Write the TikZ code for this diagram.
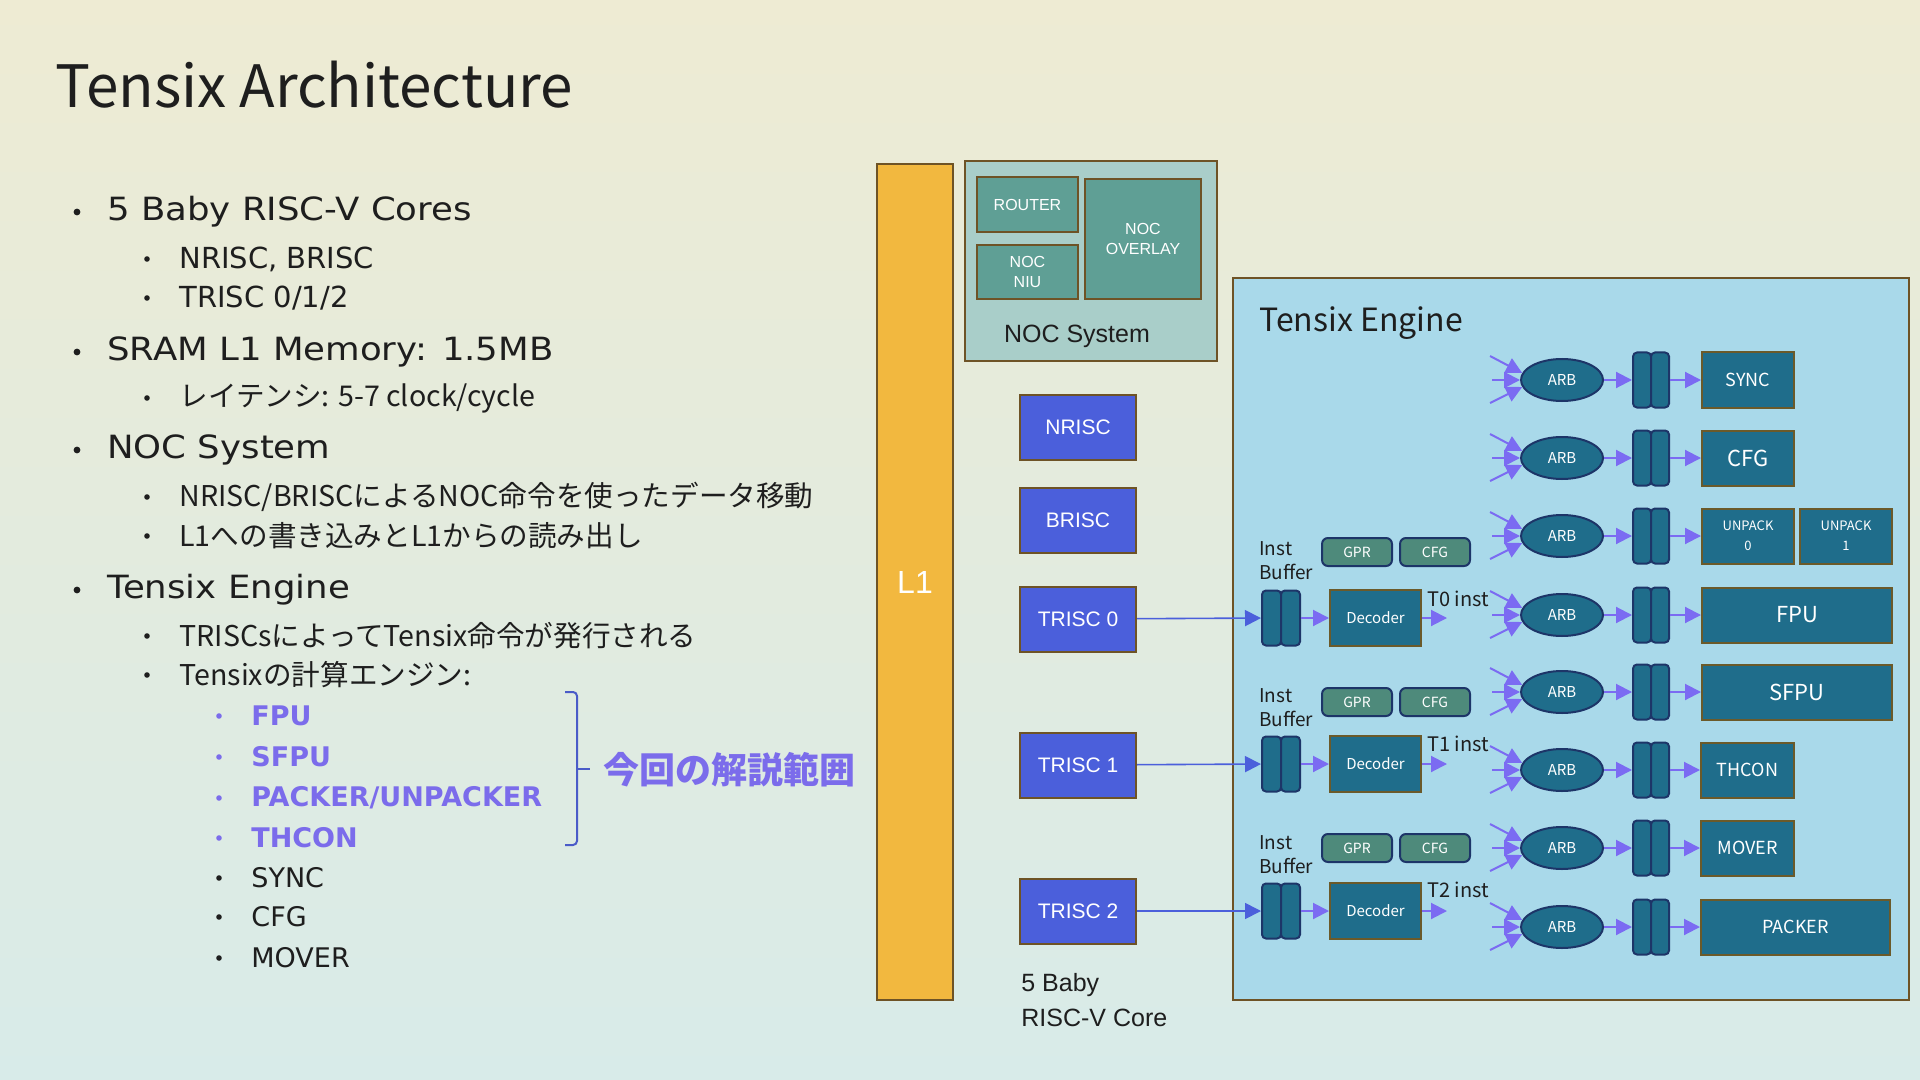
\documentclass[tikz,border=0pt]{standalone}
\usepackage{fontspec}
\setmainfont{Noto Sans CJK JP}
\newfontfamily\diagfont{Liberation Sans}
\newfontfamily\listfont{DejaVu Sans}
\newfontfamily\listwide[FakeStretch=1.11]{DejaVu Sans}
\usetikzlibrary{arrows.meta,shapes.geometric}

\definecolor{bgtop}{HTML}{EEEBD3}
\definecolor{bgmid}{HTML}{FAFAF6}
\definecolor{bgbot}{HTML}{D8EBE9}
\definecolor{txt}{HTML}{1E1E1E}
\definecolor{purp}{HTML}{7B6CEB}
\definecolor{brkcol}{HTML}{4A5BC8}
\definecolor{l1col}{HTML}{F2B83F}
\definecolor{brd}{HTML}{6E5326}
\definecolor{nocbg}{HTML}{A9CEC9}
\definecolor{noccol}{HTML}{5F9F95}
\definecolor{corecol}{HTML}{4B5FDB}
\definecolor{engbg}{HTML}{A9D9EA}
\definecolor{engdark}{HTML}{1F6D8B}
\definecolor{navy}{HTML}{1D3568}
\definecolor{unitbrd}{HTML}{6B5A2A}
\definecolor{regcol}{HTML}{4E8A7B}
\definecolor{arrcol}{HTML}{7B6BF2}

\newcommand{\fsz}[2]{\fontsize{#1}{#2}\selectfont}

\begin{document}
\begin{tikzpicture}[x=0.5pt,y=-0.5pt,>={Triangle[length=8pt,width=8pt]},
		lbl/.style={inner sep=0pt, text=txt},
		item1/.style={lbl, anchor=west, font=\listwide\fsz{16pt}{19pt}},
		item2/.style={lbl, anchor=west, font=\fsz{14.3pt}{17pt}},
		item2l/.style={lbl, anchor=west, font=\listfont\fsz{14.5pt}{17pt}},
		item3/.style={lbl, anchor=west, font=\listfont\fsz{13.5pt}{17pt}},
		hot/.style={item3, text=purp, font=\listfont\bfseries\fsz{13.5pt}{17pt}},
		box/.style={draw=brd, line width=1pt, inner sep=0pt},
		nocpart/.style={box, fill=noccol, text=white, align=center, font=\diagfont\fsz{8pt}{10pt}},
		core/.style={box, fill=corecol, text=white, minimum width=58pt, minimum height=32.5pt,
			font=\diagfont\fsz{10.5pt}{12pt}},
		arb/.style={ellipse, draw=navy, line width=1pt, fill=engdark, text=white, inner sep=0pt,
			minimum width=41pt, minimum height=21pt, font=\fsz{7.5pt}{9pt}},
		half/.style={draw=navy, line width=1pt, fill=engdark, rounded corners=2pt, inner sep=0pt,
			minimum width=9pt, minimum height=27.5pt},
		unit/.style={box, draw=unitbrd, fill=engdark, text=white, minimum height=27.5pt, align=center},
		reg/.style={draw=navy, line width=1pt, fill=regcol, text=white, rounded corners=3pt, inner sep=0pt,
			minimum width=35pt, minimum height=14pt, font=\fsz{7pt}{8pt}},
		flow/.style={every edge/.style={draw=arrcol, line width=1pt, ->}},
		link/.style={every edge/.style={draw=corecol, line width=0.8pt, ->}}]

		\useasboundingbox (0,0) rectangle (1920,1080);
		\shade[top color=bgtop, middle color=bgmid, bottom color=bgbot] (0,0) rectangle (1920,1080);

		% slide text
		\node[lbl, anchor=west, font=\fsz{29.2pt}{33pt}] (title) at (55,85) {Tensix Architecture};

		\fill[txt] (77,212) circle (1.7pt);
		\node[item1] (cores) at (107,212) {5 Baby RISC-V Cores};
		\fill[txt] (147,259) circle (1.4pt);
		\node[item2l] (cores1) at (179,259) {NRISC, BRISC};
		\fill[txt] (147,298) circle (1.4pt);
		\node[item2l] (cores2) at (179,298) {TRISC 0/1/2};
		\fill[txt] (77,352) circle (1.7pt);
		\node[item1] (sram) at (107,352) {SRAM L1 Memory: 1.5MB};
		\fill[txt] (147,398) circle (1.4pt);
		\node[item2] (sram1) at (179,398) {レイテンシ: 5-7 clock/cycle};
		\fill[txt] (77,450) circle (1.7pt);
		\node[item1] (nocsys) at (107,450) {NOC System};
		\fill[txt] (147,497) circle (1.4pt);
		\node[item2] (nocsys1) at (179,497) {NRISC/BRISCによるNOC命令を使ったデータ移動};
		\fill[txt] (147,536) circle (1.4pt);
		\node[item2] (nocsys2) at (179,536) {L1への書き込みとL1からの読み出し};
		\fill[txt] (77,590) circle (1.7pt);
		\node[item1] (tensix) at (107,590) {Tensix Engine};
		\fill[txt] (147,636) circle (1.4pt);
		\node[item2] (tensix1) at (179,636) {TRISCsによってTensix命令が発行される};
		\fill[txt] (147,675) circle (1.4pt);
		\node[item2] (tensix2) at (179,675) {Tensixの計算エンジン:};
		\fill[purp] (219,716) circle (1.4pt);
		\node[hot] (fpuitem) at (251,716) {FPU};
		\fill[purp] (219,757) circle (1.4pt);
		\node[hot] (sfpuitem) at (251,757) {SFPU};
		\fill[purp] (219,798) circle (1.4pt);
		\node[hot] (packitem) at (251,798) {PACKER/UNPACKER};
		\fill[purp] (219,838) circle (1.4pt);
		\node[hot] (thconitem) at (251,838) {THCON};
		\fill[txt] (219,878) circle (1.4pt);
		\node[item3] (syncitem) at (251,878) {SYNC};
		\fill[txt] (219,917) circle (1.4pt);
		\node[item3] (cfgitem) at (251,917) {CFG};
		\fill[txt] (219,958) circle (1.4pt);
		\node[item3] (moveritem) at (251,958) {MOVER};

		\draw[brkcol, line width=1pt, rounded corners=2pt] (565,692) -- (577,692) -- (577,845) -- (565,845);
		\draw[brkcol, line width=1pt] (577,769) -- (590,769);
		\node[lbl, anchor=west, text=purp, font=\bfseries\fsz{18pt}{20pt}] (scope) at (603,770) {今回の解説範囲};

		% L1, NOC and cores
		\node[box, fill=l1col, minimum width=38pt, minimum height=418pt, text=white,
			font=\diagfont\fsz{16pt}{19pt}] (l1) at (915,582) {L1};
		\node[box, fill=nocbg, minimum width=126pt, minimum height=100pt] (noc) at (1091,261) {};
		\node[nocpart, minimum width=50.5pt, minimum height=27.5pt] (router) at (1027.5,204.5) {ROUTER};
		\node[nocpart, minimum width=50.5pt, minimum height=27pt] (niu) at (1027.5,272) {NOC\\NIU};
		\node[nocpart, minimum width=58pt, minimum height=60pt] (overlay) at (1143,239) {NOC\\OVERLAY};
		\node[lbl, font=\diagfont\fsz{12.5pt}{15pt}] (noclbl) at (1077,336) {NOC System};

		\node[core] (nrisc) at (1078,427.5) {NRISC};
		\node[core] (brisc) at (1078,520.5) {BRISC};
		\node[core] (trisc0) at (1078,619) {TRISC 0};
		\node[core] (trisc1) at (1078,765) {TRISC 1};
		\node[core] (trisc2) at (1078,911) {TRISC 2};
		\node[lbl, anchor=west, align=left, font=\diagfont\fsz{12.5pt}{17.5pt}] (corelbl) at (1021,1000) {5 Baby\\RISC-V Core};

		% Tensix engine
		\node[box, fill=engbg, minimum width=338pt, minimum height=361pt] (engine) at (1571,639) {};
		\node[lbl, anchor=west, font=\fsz{16pt}{18pt}] (englbl) at (1259,323) {Tensix Engine};

		\node[lbl, anchor=west, align=left, font=\fsz{9.5pt}{12pt}] (ib0lbl) at (1259,561) {Inst\\Buffer};
		\node[reg] (gpr0) at (1357,552) {GPR};
		\node[reg] (cfg0) at (1435,552) {CFG};
		\node[half, minimum width=9.5pt] (ib0a) at (1271.5,618) {};
		\node[half, minimum width=9.5pt] (ib0b) at (1290.5,618) {};
		\node[unit, minimum width=45.5pt, minimum height=28pt, font=\fsz{7.5pt}{9pt}] (dec0) at (1375.5,618) {Decoder};
		\coordinate (t0) at (1447,618);
		\node[lbl, font=\fsz{10pt}{12pt}] (t0lbl) at (1458,599) {T0 inst};

		\node[lbl, anchor=west, align=left, font=\fsz{9.5pt}{12pt}] (ib1lbl) at (1259,708) {Inst\\Buffer};
		\node[reg] (gpr1) at (1357,702) {GPR};
		\node[reg] (cfg1) at (1435,702) {CFG};
		\node[half, minimum width=9.5pt] (ib1a) at (1271.5,764) {};
		\node[half, minimum width=9.5pt] (ib1b) at (1290.5,764) {};
		\node[unit, minimum width=45.5pt, minimum height=28pt, font=\fsz{7.5pt}{9pt}] (dec1) at (1375.5,764) {Decoder};
		\coordinate (t1) at (1447,764);
		\node[lbl, font=\fsz{10pt}{12pt}] (t1lbl) at (1458,744) {T1 inst};

		\node[lbl, anchor=west, align=left, font=\fsz{9.5pt}{12pt}] (ib2lbl) at (1259,854.5) {Inst\\Buffer};
		\node[reg] (gpr2) at (1357,848) {GPR};
		\node[reg] (cfg2) at (1435,848) {CFG};
		\node[half, minimum width=9.5pt] (ib2a) at (1271.5,911) {};
		\node[half, minimum width=9.5pt] (ib2b) at (1290.5,911) {};
		\node[unit, minimum width=45.5pt, minimum height=28pt, font=\fsz{7.5pt}{9pt}] (dec2) at (1375.5,911) {Decoder};
		\coordinate (t2) at (1447,911);
		\node[lbl, font=\fsz{10pt}{12pt}] (t2lbl) at (1458,890) {T2 inst};

		\node[arb] (arb1) at (1562,380) {ARB};
		\node[arb] (arb2) at (1562,458) {ARB};
		\node[arb] (arb3) at (1562,536) {ARB};
		\node[arb] (arb4) at (1562,615) {ARB};
		\node[arb] (arb5) at (1562,692) {ARB};
		\node[arb] (arb6) at (1562,770) {ARB};
		\node[arb] (arb7) at (1562,848) {ARB};
		\node[arb] (arb8) at (1562,927) {ARB};

		\node[half] (q1a) at (1642,380) {};	\node[half] (q1b) at (1660,380) {};
		\node[half] (q2a) at (1642,458) {};	\node[half] (q2b) at (1660,458) {};
		\node[half] (q3a) at (1642,536) {};	\node[half] (q3b) at (1660,536) {};
		\node[half] (q4a) at (1642,615) {};	\node[half] (q4b) at (1660,615) {};
		\node[half] (q5a) at (1642,692) {};	\node[half] (q5b) at (1660,692) {};
		\node[half] (q6a) at (1642,770) {};	\node[half] (q6b) at (1660,770) {};
		\node[half] (q7a) at (1642,848) {};	\node[half] (q7b) at (1660,848) {};
		\node[half] (q8a) at (1642,927) {};	\node[half] (q8b) at (1660,927) {};

		\node[unit, minimum width=46pt, font=\fsz{9pt}{10pt}] 	(sync) 	 at (1748,380) {SYNC};
		\node[unit, minimum width=46pt, font=\fsz{11pt}{12pt}] 	(cfg) 	 at (1748,458) {CFG};
		\node[unit, minimum width=46pt, font=\fsz{6.5pt}{10pt}] (unpack0) at (1748,536) {UNPACK\\0};
		\node[unit, minimum width=46pt, font=\fsz{6.5pt}{10pt}] (unpack1) at (1846,536) {UNPACK\\1};
		\node[unit, minimum width=95pt, font=\fsz{11pt}{12pt}] 	(fpu) 	 at (1797,615) {FPU};
		\node[unit, minimum width=95pt, font=\fsz{11pt}{12pt}] 	(sfpu) 	 at (1797,692) {SFPU};
		\node[unit, minimum width=46.5pt, font=\fsz{9pt}{10pt}] (thcon)  at (1747.5,770) {THCON};
		\node[unit, minimum width=46.5pt, font=\fsz{9pt}{10pt}] (mover)  at (1747.5,848) {MOVER};
		\node[unit, minimum width=94.5pt, font=\fsz{9pt}{10pt}] (packer) at (1795.5,927) {PACKER};

		% connectors
		\path[link] (trisc0) edge (ib0a)
					(trisc1) edge (ib1a)
					(trisc2) edge (ib2a);
		\path[flow] (ib0b) edge (dec0)
					(dec0) edge (t0)
					(ib1b) edge (dec1)
					(dec1) edge (t1)
					(ib2b) edge (dec2)
					(dec2) edge (t2);
		\path[flow] (arb1) edge (q1a)	(q1b) edge (sync)
					(arb2) edge (q2a)	(q2b) edge (cfg)
					(arb3) edge (q3a)	(q3b) edge (unpack0)
					(arb4) edge (q4a)	(q4b) edge (fpu)
					(arb5) edge (q5a)	(q5b) edge (sfpu)
					(arb6) edge (q6a)	(q6b) edge (thcon)
					(arb7) edge (q7a)	(q7b) edge (mover)
					(arb8) edge (q8a)	(q8b) edge (packer);
		\path[flow] ([shift={(-72,-24)}]arb1.center) edge (arb1.170) ([shift={(-70,0)}]arb1.center) edge (arb1.west) ([shift={(-72,23)}]arb1.center) edge (arb1.190)
					([shift={(-72,-24)}]arb2.center) edge (arb2.170) ([shift={(-70,0)}]arb2.center) edge (arb2.west) ([shift={(-72,23)}]arb2.center) edge (arb2.190)
					([shift={(-72,-24)}]arb3.center) edge (arb3.170) ([shift={(-70,0)}]arb3.center) edge (arb3.west) ([shift={(-72,23)}]arb3.center) edge (arb3.190)
					([shift={(-72,-24)}]arb4.center) edge (arb4.170) ([shift={(-70,0)}]arb4.center) edge (arb4.west) ([shift={(-72,23)}]arb4.center) edge (arb4.190)
					([shift={(-72,-24)}]arb5.center) edge (arb5.170) ([shift={(-70,0)}]arb5.center) edge (arb5.west) ([shift={(-72,23)}]arb5.center) edge (arb5.190)
					([shift={(-72,-24)}]arb6.center) edge (arb6.170) ([shift={(-70,0)}]arb6.center) edge (arb6.west) ([shift={(-72,23)}]arb6.center) edge (arb6.190)
					([shift={(-72,-24)}]arb7.center) edge (arb7.170) ([shift={(-70,0)}]arb7.center) edge (arb7.west) ([shift={(-72,23)}]arb7.center) edge (arb7.190)
					([shift={(-72,-24)}]arb8.center) edge (arb8.170) ([shift={(-70,0)}]arb8.center) edge (arb8.west) ([shift={(-72,23)}]arb8.center) edge (arb8.190);
\end{tikzpicture}
\end{document}
